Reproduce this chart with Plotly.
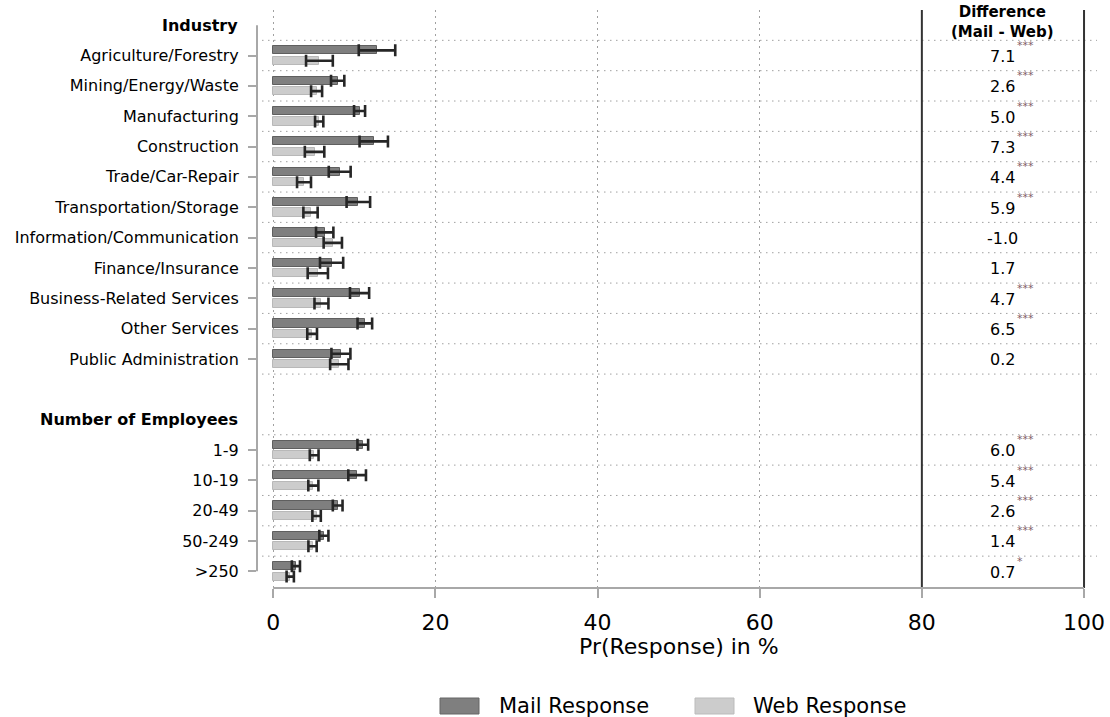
import plotly.graph_objects as go

# ---------------- data ----------------
industry_labels = ["Agriculture/Forestry", "Mining/Energy/Waste", "Manufacturing", "Construction",
                   "Trade/Car-Repair", "Transportation/Storage", "Information/Communication",
                   "Finance/Insurance", "Business-Related Services", "Other Services",
                   "Public Administration"]
employee_labels = ["1-9", "10-19", "20-49", "50-249", ">250"]

mail_industry = [12.8, 7.95, 10.65, 12.4, 8.2, 10.5, 6.35, 7.2, 10.65, 11.3, 8.35]
mail_industry_ci = [2.25, 0.82, 0.68, 1.75, 1.35, 1.45, 1.07, 1.43, 1.18, 0.9, 1.17]
web_industry = [5.7, 5.35, 5.67, 5.1, 3.8, 4.6, 7.35, 5.5, 5.95, 4.8, 8.15]
web_industry_ci = [1.65, 0.68, 0.51, 1.2, 0.86, 0.88, 1.13, 1.25, 0.86, 0.6, 1.13]

mail_employees = [11.05, 10.35, 7.95, 6.25, 2.8]
mail_employees_ci = [0.66, 1.09, 0.6, 0.56, 0.5]
web_employees = [5.05, 4.95, 5.35, 4.85, 2.1]
web_employees_ci = [0.54, 0.62, 0.52, 0.51, 0.45]

diff_industry = ["7.1", "2.6", "5.0", "7.3", "4.4", "5.9", "-1.0", "1.7", "4.7", "6.5", "0.2"]
stars_industry = ["***", "***", "***", "***", "***", "***", "", "", "***", "***", ""]
diff_employees = ["6.0", "5.4", "2.6", "1.4", "0.7"]
stars_employees = ["***", "***", "***", "***", "*"]

x_ticks = [0, 20, 40, 60, 80, 100]

# ---------------- layout of rows ----------------
industry_rows = list(range(1, 1 + len(industry_labels)))          # header at row 0
emp_header_row = industry_rows[-1] + 2
employee_rows = list(range(emp_header_row + 1, emp_header_row + 1 + len(employee_labels)))
last_row = employee_rows[-1]

rows = industry_rows + employee_rows
labels = industry_labels + employee_labels
mail = mail_industry + mail_employees
mail_ci = mail_industry_ci + mail_employees_ci
web = web_industry + web_employees
web_ci = web_industry_ci + web_employees_ci
diffs = diff_industry + diff_employees
stars = stars_industry + stars_employees

FONT = "DejaVu Sans"
W, H = 1110, 717
L, R, T, B = 257, 13, 10, 129
PW, PH = W - L - R, H - T - B

def px_x(p):
    return (p - L) / PW

def px_y(p):
    return (H - B - p) / PH

fig = go.Figure()

bar_w = 0.27
fig.add_trace(go.Bar(
    y=rows, x=mail, orientation="h", width=bar_w, offset=-0.305,
    marker=dict(color="#7f7f7f", line=dict(color="#5f5f5f", width=1)),
    error_x=dict(type="data", array=mail_ci, color="#262626", thickness=2.6, width=6),
    name="Mail Response", showlegend=False))
fig.add_trace(go.Bar(
    y=rows, x=web, orientation="h", width=bar_w, offset=0.04,
    marker=dict(color="#cccccc", line=dict(color="#b8b8b8", width=1)),
    error_x=dict(type="data", array=web_ci, color="#262626", thickness=2.6, width=6),
    name="Web Response", showlegend=False))

shapes = []
# horizontal dotted grid lines between data rows
bounds = [r + 0.5 for r in [0] + industry_rows] + [r + 0.5 for r in [emp_header_row] + employee_rows[:-1]]
for b in bounds:
    shapes.append(dict(type="line", xref="paper", yref="y", x0=px_x(262), x1=1.0, y0=b, y1=b,
                       line=dict(color="#a0a0a0", width=1, dash="1.5px,4.5px"), layer="below"))
# solid vertical lines at 80 and 100
for xv in [80, 100]:
    shapes.append(dict(type="line", xref="x", yref="paper", x0=xv, x1=xv, y0=0, y1=1,
                       line=dict(color="#333333", width=2), layer="above"))
# axis lines
shapes.append(dict(type="line", xref="x", yref="paper", x0=0, x1=100, y0=0, y1=0,
                   line=dict(color="#a8a8a8", width=2), layer="above"))
shapes.append(dict(type="line", xref="paper", yref="y", x0=0, x1=0, y0=0, y1=last_row,
                   line=dict(color="#a8a8a8", width=2), layer="above"))

annotations = []
# headers
for txt, r in [("<b>Industry</b>", 0), ("<b>Number of Employees</b>", emp_header_row)]:
    annotations.append(dict(text=txt, xref="paper", yref="y", x=px_x(240), y=r, xanchor="right",
                            yanchor="middle", showarrow=False, font=dict(family=FONT, size=16, color="#000")))
# difference column header
annotations.append(dict(text="<b>Difference<br>(Mail - Web)</b>", xref="x", yref="paper", x=90,
                        y=px_y(22), xanchor="center", yanchor="middle", showarrow=False,
                        font=dict(family=FONT, size=15, color="#000")))
for r, d, s in zip(rows, diffs, stars):
    annotations.append(dict(text=d, xref="x", yref="y", x=90, y=r, xanchor="center", yanchor="middle",
                            yshift=-1, showarrow=False, font=dict(family=FONT, size=16, color="#000")))
    if s:
        annotations.append(dict(text=s, xref="x", yref="y", x=90, y=r, xanchor="left", yanchor="middle",
                                xshift=12, yshift=10, showarrow=False,
                                font=dict(family=FONT, size=11, color="#806066")))
# x title
annotations.append(dict(text="Pr(Response) in %", xref="x", yref="paper", x=50, y=px_y(647),
                        xanchor="center", yanchor="middle", showarrow=False,
                        font=dict(family=FONT, size=22, color="#000")))
# manual legend
leg = [("Mail Response", "#7f7f7f", "#666666", 440, 497), ("Web Response", "#cccccc", "#bbbbbb", 695, 751)]
for name, fc, lc, bx, tx in leg:
    shapes.append(dict(type="rect", xref="paper", yref="paper", x0=px_x(bx), x1=px_x(bx + 39),
                       y0=px_y(714), y1=px_y(698), fillcolor=fc, line=dict(color=lc, width=1)))
    annotations.append(dict(text=name, xref="paper", yref="paper", x=px_x(tx), y=px_y(706),
                            xanchor="left", yanchor="middle", showarrow=False,
                            font=dict(family=FONT, size=21, color="#000")))

fig.update_layout(
    width=W, height=H, margin=dict(l=L, r=R, t=T, b=B, autoexpand=False),
    paper_bgcolor="white", plot_bgcolor="white",
    barmode="overlay", bargap=0,
    font=dict(family=FONT, color="#000"),
    shapes=shapes, annotations=annotations,
    xaxis=dict(range=[-2.0, 101.6], tickvals=x_ticks, ticks="outside", ticklen=9, tickwidth=2,
               tickcolor="#a8a8a8", showline=False, zeroline=False, showgrid=True, automargin=False,
               gridcolor="#a0a0a0", gridwidth=1, griddash="1.5px,4.5px",
               tickfont=dict(family=FONT, size=22, color="#000"), ticklabelstandoff=6),
    yaxis=dict(range=[last_row + 0.55, -0.5], tickvals=rows, ticktext=labels, ticks="outside",
               ticklen=8, tickwidth=2, tickcolor="#a8a8a8", showline=False, zeroline=False,
               showgrid=False, automargin=False,
               tickfont=dict(family=FONT, size=16, color="#000"), ticklabelstandoff=6),
)

fig.write_html("out.html")
